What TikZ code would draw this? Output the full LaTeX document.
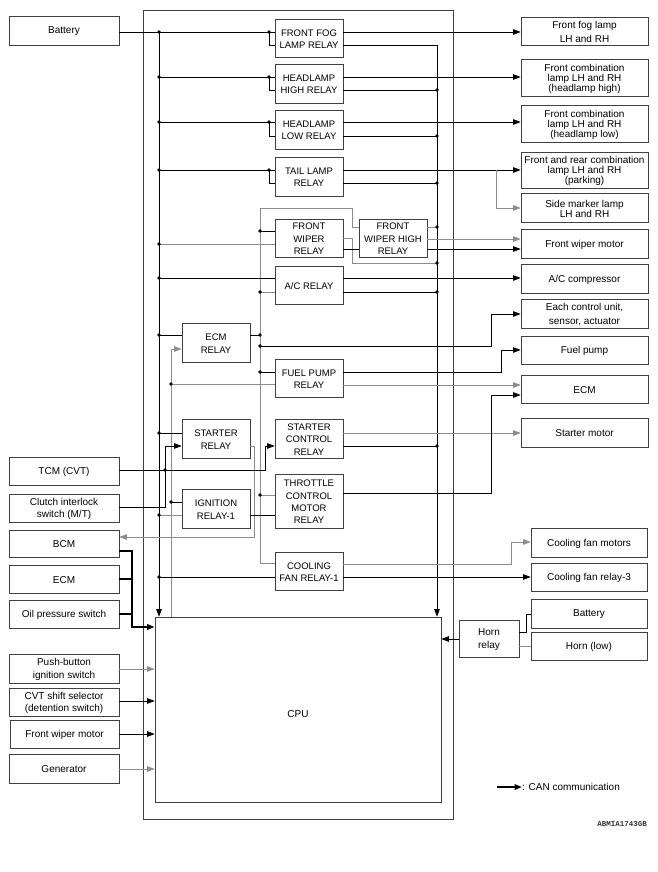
\documentclass[tikz,border=0pt]{standalone}
\usepackage{fontspec}
\setmainfont{Liberation Sans}
\newfontfamily\codefont{Liberation Mono}
\usetikzlibrary{arrows.meta}
\newcommand\mkbox[7][]{\node[box,minimum width={(#5-#3)*1pt},minimum height={(#6-#4)*1pt}] (#2) at ({(#3+#5)/2},{(#4+#6)/2}) {};
  \node[boxtxt,#1] (#2t) at (#2.center) {#7};}
\begin{document}
\begin{tikzpicture}[x=1pt,y=-1pt,
  box/.style={draw=black!75,line width=0.7pt,fill=white,inner sep=0pt},
  boxtxt/.style={align=center,inner sep=0pt,yshift=-1pt,font=\fontsize{10}{12.5}\selectfont},
  capt/.style={font=\fontsize{9.5}{12.4}\selectfont},
  tight/.style={font=\fontsize{10}{10}\selectfont},
  wire/.style={line width=0.7pt,draw=black},
  gw/.style={line width=0.7pt,draw=black!45},
  arr/.style={-{Triangle[length=7.5pt,width=5.5pt]}},
  can/.style={line width=2.2pt,line join=miter},
  jd/.style={circle,fill=black,inner sep=0pt,minimum size=3.8pt}
]
\useasboundingbox (0,0) rectangle (658,872);
% outer frame
\draw[line width=0.7pt,draw=black!75] (143,10) rectangle (453,819);
% left boxes
\mkbox{bat}{9}{16}{119}{45}{Battery}
\mkbox{tcm}{9}{457}{119}{485}{TCM (CVT)}
\mkbox{clutch}{9}{494}{119}{522}{Clutch interlock\\switch (M/T)}
\mkbox{bcm}{9}{530}{119}{557}{BCM}
\mkbox{ecml}{9}{565}{119}{593}{ECM}
\mkbox{oil}{9}{600}{119}{628}{Oil pressure switch}
\mkbox{push}{9}{654}{119}{683}{Push-button\\ignition switch}
\mkbox{cvt}{9}{688}{119}{716}{CVT shift selector\\(detention switch)}
\mkbox{fwml}{10}{720}{119}{748}{Front wiper motor}
\mkbox{gen}{9}{754}{119}{783}{Generator}
% CPU
\mkbox[yshift=-4pt]{cpu}{155}{617}{441}{802}{CPU}
% relays
\mkbox[capt]{fog}{275}{19}{343}{57}{FRONT FOG\\LAMP RELAY}
\mkbox[capt]{hhi}{275}{64}{343}{103}{HEADLAMP\\HIGH RELAY}
\mkbox[capt]{hlo}{275}{110}{343}{149}{HEADLAMP\\LOW RELAY}
\mkbox[capt]{tail}{275}{157}{343}{196}{TAIL LAMP\\RELAY}
\mkbox[capt]{fwr}{275}{219}{343}{257}{FRONT\\WIPER\\RELAY}
\mkbox[capt]{fwh}{359}{219}{427}{257}{FRONT\\WIPER HIGH\\RELAY}
\mkbox[capt]{ac}{275}{266}{343}{304}{A/C RELAY}
\mkbox[capt]{ecmr}{182}{323}{250}{362}{ECM\\RELAY}
\mkbox[capt]{fpr}{275}{359}{343}{397}{FUEL PUMP\\RELAY}
\mkbox[capt]{str}{182}{419}{250}{458}{STARTER\\RELAY}
\mkbox[capt]{scr}{275}{419}{343}{458}{STARTER\\CONTROL\\RELAY}
\mkbox[capt]{ign}{182}{489}{250}{528}{IGNITION\\RELAY-1}
\mkbox[capt]{tcr}{275}{474}{343}{528}{THROTTLE\\CONTROL\\MOTOR\\RELAY}
\mkbox[capt]{cfr}{275}{552}{343}{590}{COOLING\\FAN RELAY-1}
% right boxes
\mkbox[font=\fontsize{10}{13.3}\selectfont]{ffl}{521}{17}{648}{45}{Front fog lamp\\LH and RH}
\mkbox[tight]{fchi}{521}{59}{648}{96}{Front combination\\lamp LH and RH\\(headlamp high)}
\mkbox[tight]{fclo}{521}{105}{648}{142}{Front combination\\lamp LH and RH\\(headlamp low)}
\mkbox[tight]{park}{521}{152}{648}{188}{Front and rear combination\\lamp LH and RH\\(parking)}
\mkbox[tight]{side}{521}{193}{648}{222}{Side marker lamp\\LH and RH}
\mkbox{fwm}{521}{229}{648}{258}{Front wiper motor}
\mkbox{acc}{521}{264}{648}{293}{A/C compressor}
\mkbox[font=\fontsize{10}{13.3}\selectfont]{ecu}{521}{299}{648}{328}{Each control unit,\\sensor, actuator}
\mkbox{fp}{521}{336}{648}{364}{Fuel pump}
\mkbox{ecmR}{521}{375}{648}{403}{ECM}
\mkbox{stm}{521}{418}{648}{447}{Starter motor}
\mkbox{cfm}{531}{528}{647}{557}{Cooling fan motors}
\mkbox{cf3}{531}{563}{647}{591}{Cooling fan relay-3}
\mkbox{batR}{531}{599}{647}{628}{Battery}
\mkbox{horn}{531}{632}{647}{660}{Horn (low)}
\mkbox{hr}{459}{620}{519}{657}{Horn\\relay}
% ---- battery bus
\draw[wire] (bat.east|-0,32) -- (fog.west|-0,32);
\draw[wire,arr] (159,32) -- (cpu.north-|159,0);
\draw[wire] (269,32) |- (fog.west|-0,45);
\draw[wire,arr] (fog.east|-0,32) -- (ffl.west|-0,32);
\draw[wire,arr] (fog.east|-0,45) -| (cpu.north-|437,0);
% headlamp high
\draw[wire] (159,77) -- (hhi.west|-0,77);
\draw[wire] (269,77) |- (hhi.west|-0,90);
\draw[wire,arr] (hhi.east|-0,77) -- (fchi.west|-0,77);
\draw[wire] (hhi.east|-0,90) -- (437,90);
% headlamp low
\draw[wire] (159,122) -- (hlo.west|-0,122);
\draw[wire] (269,122) |- (hlo.west|-0,136);
\draw[wire,arr] (hlo.east|-0,122) -- (fclo.west|-0,122);
\draw[wire] (hlo.east|-0,136) -- (437,136);
% tail
\draw[wire] (159,170) -- (tail.west|-0,170);
\draw[wire] (269,170) |- (tail.west|-0,183);
\draw[wire,arr] (tail.east|-0,170) -- (park.west|-0,170);
\draw[gw,arr] (496,170) |- (side.west|-0,208);
\draw[wire] (tail.east|-0,183) -- (437,183);
% ECM relay output bus x=260
\draw[gw] (fwh.west|-0,227) -| (352,208) -| (260,563) -- (cfr.west|-0,563);
% wiper
\draw[wire] (260,231) -- (fwr.west|-0,231);
\draw[gw] (159,244) -- (fwr.west|-0,244);
\draw[gw] (fwr.east|-0,238) -| (352,263) -- (437,263);
\draw[wire] (fwr.east|-0,249) -- (fwh.west|-0,249);
\draw[gw] (fwh.east|-0,227) -- (437,227);
\draw[gw,arr] (fwh.east|-0,239) -- (fwm.west|-0,239);
\draw[wire,arr] (fwh.east|-0,249) -- (fwm.west|-0,249);
% A/C
\draw[wire] (159,278) -- (ac.west|-0,278);
\draw[gw] (260,292) -- (ac.west|-0,292);
\draw[wire,arr] (ac.east|-0,278) -- (acc.west|-0,278);
\draw[wire] (ac.east|-0,292) -- (437,292);
% ECM relay
\draw[wire] (159,335) -- (ecmr.west|-0,335);
\draw[gw,arr] (cpu.north-|171,0) |- (ecmr.west|-0,349);
\draw[wire] (ecmr.east|-0,335) -- (260,335);
\draw[wire,arr] (260,346) -| (491,314) -- (ecu.west|-0,314);
% fuel pump relay
\draw[wire] (260,372) -- (fpr.west|-0,372);
\draw[gw] (171,384) -- (fpr.west|-0,384);
\draw[wire,arr] (fpr.east|-0,372) -| (501,350) -- (fp.west|-0,350);
\draw[gw,arr] (fpr.east|-0,385) -- (ecmR.west|-0,385);
% starter relay
\draw[wire] (159,433) -- (str.west|-0,433);
\draw[wire,arr] (clutch.east|-0,507) -| (165,446) -- (str.west|-0,446);
\draw[gw,arr] (str.east|-0,446) -| (254,537) -- (bcm.east|-0,537);
% TCM / starter control relay
\draw[wire,arr] (tcm.east|-0,470) -| (265,446) -- (scr.west|-0,446);
\draw[gw,arr] (scr.east|-0,433) -- (stm.west|-0,433);
\draw[wire] (scr.east|-0,446) -- (437,446);
% ignition relay / throttle
\draw[wire] (171,502) -- (ign.west|-0,502);
\draw[gw] (159,515) -- (ign.west|-0,515);
\draw[wire] (ign.east|-0,515) -- (tcr.west|-0,515);
\draw[gw] (260,495) -- (tcr.west|-0,495);
\draw[wire,arr] (tcr.east|-0,493) -| (491,395) -- (ecmR.west|-0,395);
% cooling fan relay
\draw[wire] (159,577) -- (cfr.west|-0,577);
\draw[gw,arr] (cfr.east|-0,564) -| (511,542) -- (cfm.west|-0,542);
\draw[wire,arr] (cfr.east|-0,577) -- (cf3.west|-0,577);
% horn
\draw[wire,arr] (hr.west|-0,639) -- (cpu.east|-0,639);
\draw[wire] (hr.east|-0,632) -| (526,614) -- (batR.west|-0,614);
\draw[gw] (hr.east|-0,646) -- (horn.west|-0,646);
% CAN
\draw[can,arr] (bcm.east|-0,551) -| (132,627) -- (cpu.west|-0,627);
\draw[can] (ecml.east|-0,579) -- (132,579);
\draw[can] (oil.east|-0,614) -- (132,614);
% left inputs
\draw[gw,arr] (push.east|-0,669) -- (cpu.west|-0,669);
\draw[wire,arr] (cvt.east|-0,701) -- (cpu.west|-0,701);
\draw[wire,arr] (fwml.east|-0,734) -- (cpu.west|-0,734);
\draw[gw,arr] (gen.east|-0,769) -- (cpu.west|-0,769);
% junction dots
\foreach \y in {32,77,122,170,244,278,335,433,515,577} \node[jd] at (159,\y) {};
\foreach \y in {32,77,122,170} \node[jd] at (269,\y) {};
\foreach \y in {90,136,183,227,263,292,446} \node[jd] at (437,\y) {};
\foreach \y in {231,292,335,346,372,495} \node[jd] at (260,\y) {};
\foreach \y in {384,502} \node[jd] at (171,\y) {};
\node[jd] at (165,470) {};
% legend
\coordinate (lg1) at (497,787);
\node[anchor=west,inner sep=0pt,font=\fontsize{10}{12}\selectfont] (lgt) at (522,787) {: CAN communication};
\draw[can,arr] (lg1) -- (lgt.west);
\node[anchor=east,inner sep=0pt,font=\codefont\bfseries\fontsize{7.5}{8}\selectfont,text=black!80] (code) at (647,824) {ABMIA1743GB};
\end{tikzpicture}
\end{document}
